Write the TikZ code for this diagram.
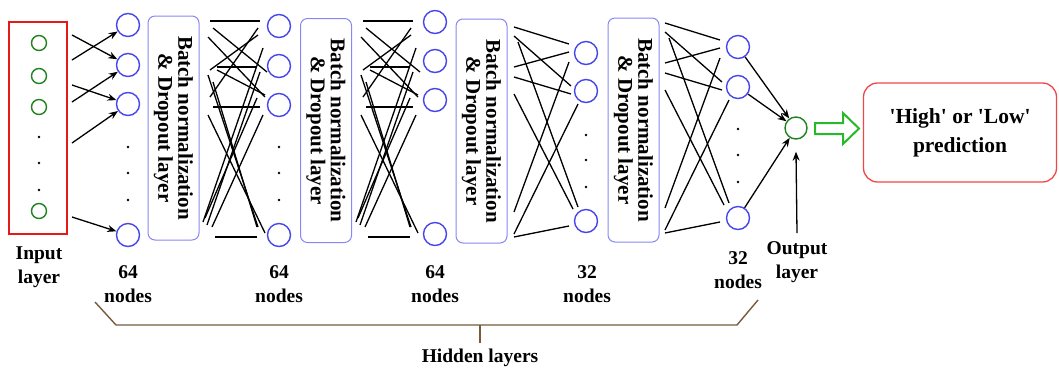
\documentclass[tikz,border=0pt]{standalone}
\usepackage{fontspec}
\setmainfont{Liberation Serif}
\usetikzlibrary{arrows.meta}
\definecolor{nblue}{RGB}{70,70,235}
\definecolor{bnblue}{RGB}{135,135,245}
\definecolor{ngreen}{RGB}{30,130,30}
\definecolor{agreen}{RGB}{40,185,40}
\definecolor{ired}{RGB}{230,25,25}
\definecolor{pred}{RGB}{240,70,70}
\definecolor{brk}{RGB}{120,90,60}
\begin{document}
\begin{tikzpicture}[x=1pt,y=-1pt,
 neuron/.style={circle,draw=nblue,line width=1.4pt,minimum size=23pt,inner sep=0pt},
 inneuron/.style={circle,draw=ngreen,line width=1.4pt,minimum size=15pt,inner sep=0pt},
 bnbox/.style={draw=bnblue,line width=1pt,rounded corners=7pt,rotate=-90,minimum width=224pt,minimum height=51pt,inner sep=0pt,align=center,font=\fontsize{21}{20}\selectfont\bfseries},
 lbl/.style={align=center,font=\fontsize{19.5}{24}\selectfont\bfseries,inner sep=0pt},
 conn/.style={line width=1.3pt,black},
 arr/.style={conn,-{Stealth[length=9pt,width=7pt]}},
 ndot/.style={circle,fill=black,inner sep=0pt,minimum size=2.8pt},
]
\useasboundingbox (0,0) rectangle (1059,368);

% input layer
\node[draw=ired,line width=1.8pt,minimum width=58pt,minimum height=212pt,inner sep=0pt] (inbox) at (38,128) {};
\node[inneuron] (i1) at (39,43) {};
\node[inneuron] (i2) at (39,76) {};
\node[inneuron] (i3) at (39,107) {};
\node[inneuron] (i4) at (39,211) {};
\foreach \yy [count=\k] in {137,163,190} \node[ndot] (id\k) at (39,\yy) {};

% hidden layer 1
\node[neuron] (a1) at (128,25) {};
\node[neuron] (a2) at (128,65) {};
\node[neuron] (a3) at (128,104) {};
\node[neuron] (a4) at (128,235) {};
\foreach \yy [count=\k] in {147,173,200} \node[ndot] (ad\k) at (128,\yy) {};

% hidden layer 2
\node[neuron] (b1) at (279,26) {};
\node[neuron] (b2) at (279,66) {};
\node[neuron] (b3) at (279,105) {};
\node[neuron] (b4) at (279,235) {};
\foreach \yy [count=\k] in {147,173,200} \node[ndot] (bd\k) at (279,\yy) {};

% hidden layer 3
\node[neuron] (c1) at (435,22) {};
\node[neuron] (c2) at (435,61) {};
\node[neuron] (c3) at (435,100) {};
\node[neuron] (c4) at (435,234) {};

% hidden layer 4
\node[neuron] (d1) at (586,53) {};
\node[neuron] (d2) at (586,91) {};
\node[neuron] (d3) at (586,221) {};
\foreach \yy [count=\k] in {135,160,187} \node[ndot] (dd\k) at (586,\yy) {};

% hidden layer 5
\node[neuron] (e1) at (738,47) {};
\node[neuron] (e2) at (738,87) {};
\node[neuron] (e3) at (738,218) {};
\foreach \yy [count=\k] in {129,155,182} \node[ndot] (ed\k) at (738,\yy) {};

% output
\node[circle,draw=ngreen,line width=1.4pt,minimum size=22pt,inner sep=0pt] (out) at (796,128) {};

% BN boxes
\node[bnbox] (bn1) at (173.5,128) {Batch normalization\\\& Dropout layer};
\node[bnbox] (bn2) at (326,130.5) {Batch normalization\\\& Dropout layer};
\node[bnbox] (bn3) at (481.5,131) {Batch normalization\\\& Dropout layer};
\node[bnbox] (bn4) at (633.5,130) {Batch normalization\\\& Dropout layer};

% input -> layer 1 arrows
\coordinate (s1) at (72,35);
\coordinate (s2) at (72,60);
\coordinate (s3) at (72,85);
\coordinate (s4) at (72,102);
\coordinate (s5) at (72,143);
\coordinate (s6) at (72,217);
\draw[arr] (s1) -- (a2);
\draw[arr] (s2) -- (a1);
\draw[arr] (s3) -- (a3);
\draw[arr] (s4) -- (a2);
\draw[arr] (s5) -- (a3);
\draw[arr] (s6) -- (a4);

% pattern A (gaps 1 and 2)
\foreach \dx in {0,153}{
\begin{scope}[shift={(\dx,0)}]
\draw[conn] (210,21) -- (260,21);
\draw[conn] (217,67) -- (257,67);
\draw[conn] (213,107) -- (260,107);
\draw[conn] (215,237) -- (257,237);
\draw[conn] (213,28) -- (267,72);
\draw[conn] (208,37) -- (265,97);
\draw[conn] (210,97) -- (258,28);
\draw[conn] (210,70) -- (258,35);
\draw[conn] (217,70) -- (265,95);
\draw[conn] (208,75) -- (258,227);
\draw[conn] (213,82) -- (257,227);
\draw[conn] (208,115) -- (265,233);
\draw[conn] (203,222) -- (263,48);
\draw[conn] (207,225) -- (260,72);
\draw[conn] (212,227) -- (263,115);
\draw[conn] (205,218) -- (257,98);
\end{scope}}

% pattern B (gaps 3 and 4)
\foreach \dx/\dy in {-151/4,0/0}{
\begin{scope}[shift={(\dx,\dy)}]
\draw[conn] (665,23) -- (720,40);
\draw[conn] (665,32) -- (722,82);
\draw[conn] (669,38) -- (729,203);
\draw[conn] (665,63) -- (720,48);
\draw[conn] (665,73) -- (722,90);
\draw[conn] (665,90) -- (724,205);
\draw[conn] (665,208) -- (720,58);
\draw[conn] (665,230) -- (729,100);
\draw[conn] (665,233) -- (720,222);
\end{scope}}

% layer 5 -> output
\draw[arr] (e1) -- (out);
\draw[arr] (e2) -- (out);
\draw[arr] (e3) -- (out);
\coordinate (ov) at (797,233);
\draw[arr] (ov) -- ([yshift=-12pt]out.south);

% green hollow arrow
\draw[agreen,line width=2pt,line join=miter] (815,123) -- (843,123) -- (843,113) -- (859,128.5) -- (843,144) -- (843,134) -- (815,134) -- cycle;

% prediction box
\node[draw=pred,line width=1.3pt,rounded corners=14pt,minimum width=193pt,minimum height=99pt,inner sep=0pt,align=center,font=\fontsize{21.5}{29}\selectfont\bfseries] (pred) at (960,132.5) {\textquotesingle High\textquotesingle{} or \textquotesingle Low\textquotesingle\\prediction};

% labels
\node[lbl] (lin) at (39,267) {Input\\layer};
\node[lbl] (la) at (128,284) {64\\nodes};
\node[lbl] (lb) at (279,284) {64\\nodes};
\node[lbl] (lc) at (435,284) {64\\nodes};
\node[lbl] (ld) at (587,284) {32\\nodes};
\node[lbl] (le) at (738,270) {32\\nodes};
\node[lbl] (lout) at (797,262) {Output\\layer};

% bracket
\draw[brk,line width=1.4pt] (95,302) -- (116,325) -- (737,325) -- (758,300);
\coordinate (bm) at (480,325);
\draw[brk,line width=1.4pt] (bm) -- (480,343);
\node[lbl] (hid) at (480,358) {Hidden layers};
\end{tikzpicture}
\end{document}
